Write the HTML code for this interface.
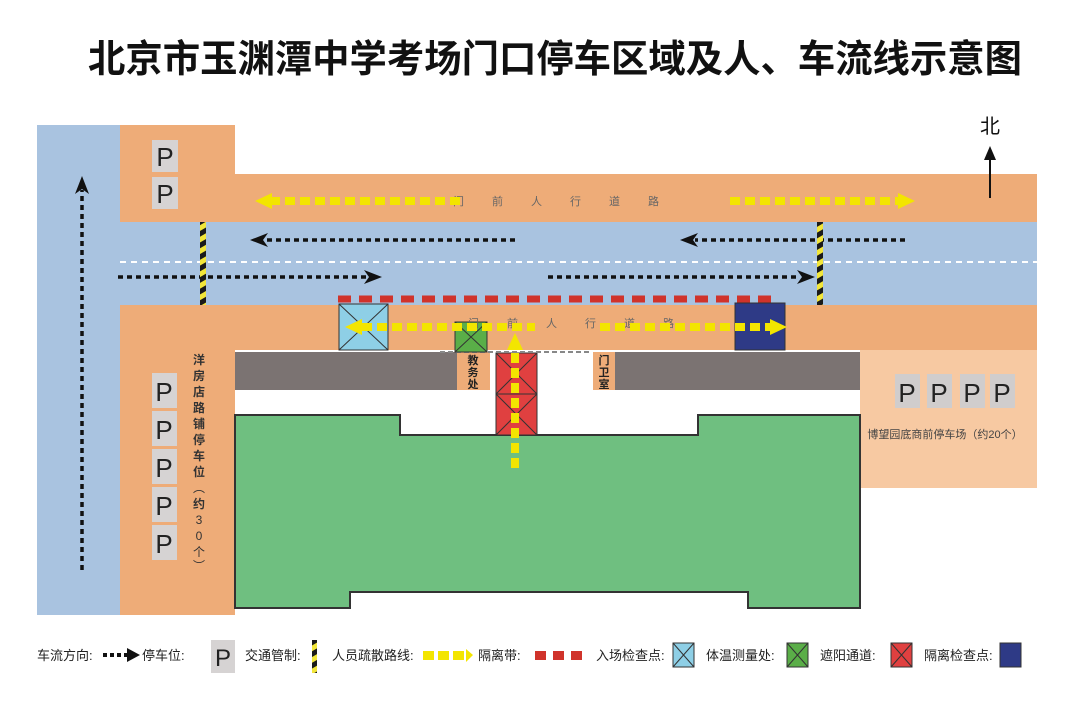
<!DOCTYPE html>
<html><head><meta charset="utf-8"><style>
html,body{margin:0;padding:0;background:#fff;}
svg{display:block;font-family:"Liberation Sans","Noto Sans CJK SC",sans-serif;}
</style></head><body>
<svg width="1080" height="703" viewBox="0 0 1080 703" xmlns="http://www.w3.org/2000/svg">
<defs>
<pattern id="hz" width="6" height="10" patternUnits="userSpaceOnUse" patternTransform="rotate(-30)">
<rect width="6" height="5" fill="#1a1a1a"/><rect y="5" width="6" height="5" fill="#f2e63a"/>
</pattern>
</defs>
<text x="555" y="72" text-anchor="middle" font-size="38" font-weight="bold" fill="#111" textLength="934" lengthAdjust="spacingAndGlyphs">北京市玉渊潭中学考场门口停车区域及人、车流线示意图</text>

<rect x="37" y="125" width="83" height="490" fill="#a9c3e0"/>
<rect x="120" y="222" width="917" height="83" fill="#a9c3e0"/>
<line x1="120" y1="262" x2="1037" y2="262" stroke="#fff" stroke-width="2" stroke-dasharray="6,5"/>
<rect x="120" y="125" width="115" height="97" fill="#eeac78"/>
<rect x="235" y="174" width="802" height="48" fill="#eeac78"/>
<rect x="120" y="305" width="115" height="310" fill="#eeac78"/>
<rect x="235" y="305" width="802" height="45" fill="#eeac78"/>
<rect x="860" y="350" width="177" height="138" fill="#f7c9a2"/>
<rect x="235" y="352" width="222" height="38" fill="#7b7372"/>
<rect x="615" y="352" width="245" height="38" fill="#7b7372"/>
<rect x="457" y="352" width="33" height="38" fill="#eeac78"/>
<rect x="593" y="352" width="22" height="38" fill="#eeac78"/>
<text font-size="11" font-weight="bold" fill="#222" text-anchor="middle"><tspan x="473" y="364">教</tspan><tspan x="473" y="376">务</tspan><tspan x="473" y="388">处</tspan></text>
<text font-size="11" font-weight="bold" fill="#222" text-anchor="middle"><tspan x="604" y="364">门</tspan><tspan x="604" y="376">卫</tspan><tspan x="604" y="388">室</tspan></text>
<polygon points="235,415 400,415 400,435 698,435 698,415 860,415 860,608 748,608 748,592 350,592 350,608 235,608" fill="#6fbf80" stroke="#333" stroke-width="2"/>
<rect x="496" y="353" width="41" height="82" fill="#e04040" stroke="#333" stroke-width="1"/>
<path d="M496,353 L537,394 M537,353 L496,394 M496,394 L537,435 M537,394 L496,435 M496,394 H537" stroke="#333" stroke-width="1"/>
<line x1="440" y1="352" x2="590" y2="352" stroke="#888" stroke-width="2" stroke-dasharray="5,3"/>
<rect x="339" y="304" width="49" height="46" fill="#8ecfe6" stroke="#333"/>
<path d="M339,304 L388,350 M388,304 L339,350" stroke="#333"/>
<rect x="455" y="322" width="32" height="30" fill="#5aae48" stroke="#333"/>
<path d="M455,322 L487,352 M487,322 L455,352" stroke="#333"/>
<rect x="735" y="303" width="50" height="47" fill="#2e3a86" stroke="#333"/>
<line x1="338" y1="299" x2="776" y2="299" stroke="#d0332b" stroke-width="7" stroke-dasharray="13,8"/>
<text x="570" y="205" font-size="11" fill="#666" text-anchor="middle" letter-spacing="28">门前人行道路</text>
<text x="585" y="327" font-size="11" fill="#666" text-anchor="middle" letter-spacing="28">门前人行道路</text>
<g stroke="#f3e500" stroke-width="8" stroke-dasharray="10,5" fill="none">
<line x1="270" y1="201" x2="465" y2="201"/>
<line x1="730" y1="201" x2="900" y2="201"/>
<line x1="362" y1="327" x2="535" y2="327"/>
<line x1="600" y1="327" x2="770" y2="327"/>
<line x1="515" y1="468" x2="515" y2="350"/>
</g>
<g fill="#f3e500">
<polygon points="255,201 272,193 272,209"/>
<polygon points="915,201 898,193 898,209"/>
<polygon points="345,327 362,319 362,335"/>
<polygon points="787,327 770,319 770,335"/>
<polygon points="515,333 507,350 523,350"/>
</g>
<g stroke="#111" stroke-width="3.5" stroke-dasharray="5,4" fill="none">
<line x1="515" y1="240" x2="265" y2="240"/>
<line x1="905" y1="240" x2="695" y2="240"/>
<line x1="118" y1="277" x2="368" y2="277"/>
<line x1="548" y1="277" x2="800" y2="277"/>
<line x1="82" y1="570" x2="82" y2="190"/>
</g>
<g fill="#111">
<polygon points="250,240 268,233 263,240 268,247"/>
<polygon points="680,240 698,233 693,240 698,247"/>
<polygon points="382,277 364,270 369,277 364,284"/>
<polygon points="815,277 797,270 802,277 797,284"/>
<polygon points="82,176 75,194 82,189 89,194"/>
</g>
<rect x="200" y="222" width="6" height="83" fill="url(#hz)"/>
<rect x="817" y="222" width="6" height="83" fill="url(#hz)"/>
<text x="990" y="133" font-size="20" text-anchor="middle" fill="#111">北</text>
<line x1="990" y1="198" x2="990" y2="155" stroke="#111" stroke-width="2"/>
<polygon points="990,146 984,160 996,160" fill="#111"/>
<g font-size="26" fill="#222" text-anchor="middle">
<rect x="152" y="140" width="26" height="32" fill="#d6d3d3"/><text x="165" y="166">P</text>
<rect x="152" y="177" width="26" height="32" fill="#d6d3d3"/><text x="165" y="203">P</text>
<rect x="152" y="373" width="25" height="35" fill="#d6d3d3"/><text x="164" y="401">P</text>
<rect x="152" y="411" width="25" height="35" fill="#d6d3d3"/><text x="164" y="439">P</text>
<rect x="152" y="449" width="25" height="35" fill="#d6d3d3"/><text x="164" y="477">P</text>
<rect x="152" y="487" width="25" height="35" fill="#d6d3d3"/><text x="164" y="515">P</text>
<rect x="152" y="525" width="25" height="35" fill="#d6d3d3"/><text x="164" y="553">P</text>
<rect x="895" y="374" width="25" height="34" fill="#d0cdcd"/><text x="907" y="402">P</text>
<rect x="927" y="374" width="25" height="34" fill="#d0cdcd"/><text x="939" y="402">P</text>
<rect x="960" y="374" width="25" height="34" fill="#d0cdcd"/><text x="972" y="402">P</text>
<rect x="990" y="374" width="25" height="34" fill="#d0cdcd"/><text x="1002" y="402">P</text>
</g>
<text x="945" y="438" font-size="11" fill="#444" text-anchor="middle">博望园底商前停车场（约20个）</text>
<text font-size="12" fill="#333" text-anchor="middle">
<tspan x="199" y="364" font-weight="bold">洋</tspan><tspan x="199" y="380" font-weight="bold">房</tspan><tspan x="199" y="396" font-weight="bold">店</tspan><tspan x="199" y="412" font-weight="bold">路</tspan><tspan x="199" y="428" font-weight="bold">铺</tspan><tspan x="199" y="444" font-weight="bold">停</tspan><tspan x="199" y="460" font-weight="bold">车</tspan><tspan x="199" y="476" font-weight="bold">位</tspan><tspan x="199" y="492">︵</tspan><tspan x="199" y="508" font-weight="bold">约</tspan><tspan x="199" y="524">3</tspan><tspan x="199" y="540">0</tspan><tspan x="199" y="556">个</tspan><tspan x="199" y="570">︶</tspan></text>

<g font-size="13" fill="#222">
<text x="37" y="660">车流方向:</text>
<line x1="103" y1="655" x2="127" y2="655" stroke="#111" stroke-width="4" stroke-dasharray="4,3"/>
<polygon points="140,655 127,648 127,662" fill="#111"/>
<text x="142" y="660">停车位:</text>
<rect x="211" y="640" width="24" height="33" fill="#d6d3d3"/><text x="223" y="666" font-size="24" text-anchor="middle">P</text>
<text x="245" y="660">交通管制:</text>
<rect x="312" y="640" width="5" height="33" fill="url(#hz)"/>
<text x="332" y="660">人员疏散路线:</text>
<rect x="423" y="651" width="11" height="9" fill="#f3e500"/><rect x="438" y="651" width="11" height="9" fill="#f3e500"/><rect x="453" y="651" width="11" height="9" fill="#f3e500"/>
<polygon points="466,649 473,655 466,662" fill="#f3e500"/>
<text x="478" y="660">隔离带:</text>
<rect x="535" y="651" width="11" height="9" fill="#d0332b"/><rect x="553" y="651" width="11" height="9" fill="#d0332b"/><rect x="571" y="651" width="11" height="9" fill="#d0332b"/>
<text x="596" y="660">入场检查点:</text>
<rect x="673" y="643" width="21" height="24" fill="#8ecfe6" stroke="#333"/><path d="M673,643 L694,667 M694,643 L673,667" stroke="#333"/>
<text x="706" y="660">体温测量处:</text>
<rect x="787" y="643" width="21" height="24" fill="#5aae48" stroke="#333"/><path d="M787,643 L808,667 M808,643 L787,667" stroke="#333"/>
<text x="820" y="660">遮阳通道:</text>
<rect x="891" y="643" width="21" height="24" fill="#e04040" stroke="#333"/><path d="M891,643 L912,667 M912,643 L891,667" stroke="#333"/>
<text x="924" y="660">隔离检查点:</text>
<rect x="1000" y="643" width="21" height="24" fill="#2e3a86" stroke="#333"/>
</g>
</svg>
</body></html>
